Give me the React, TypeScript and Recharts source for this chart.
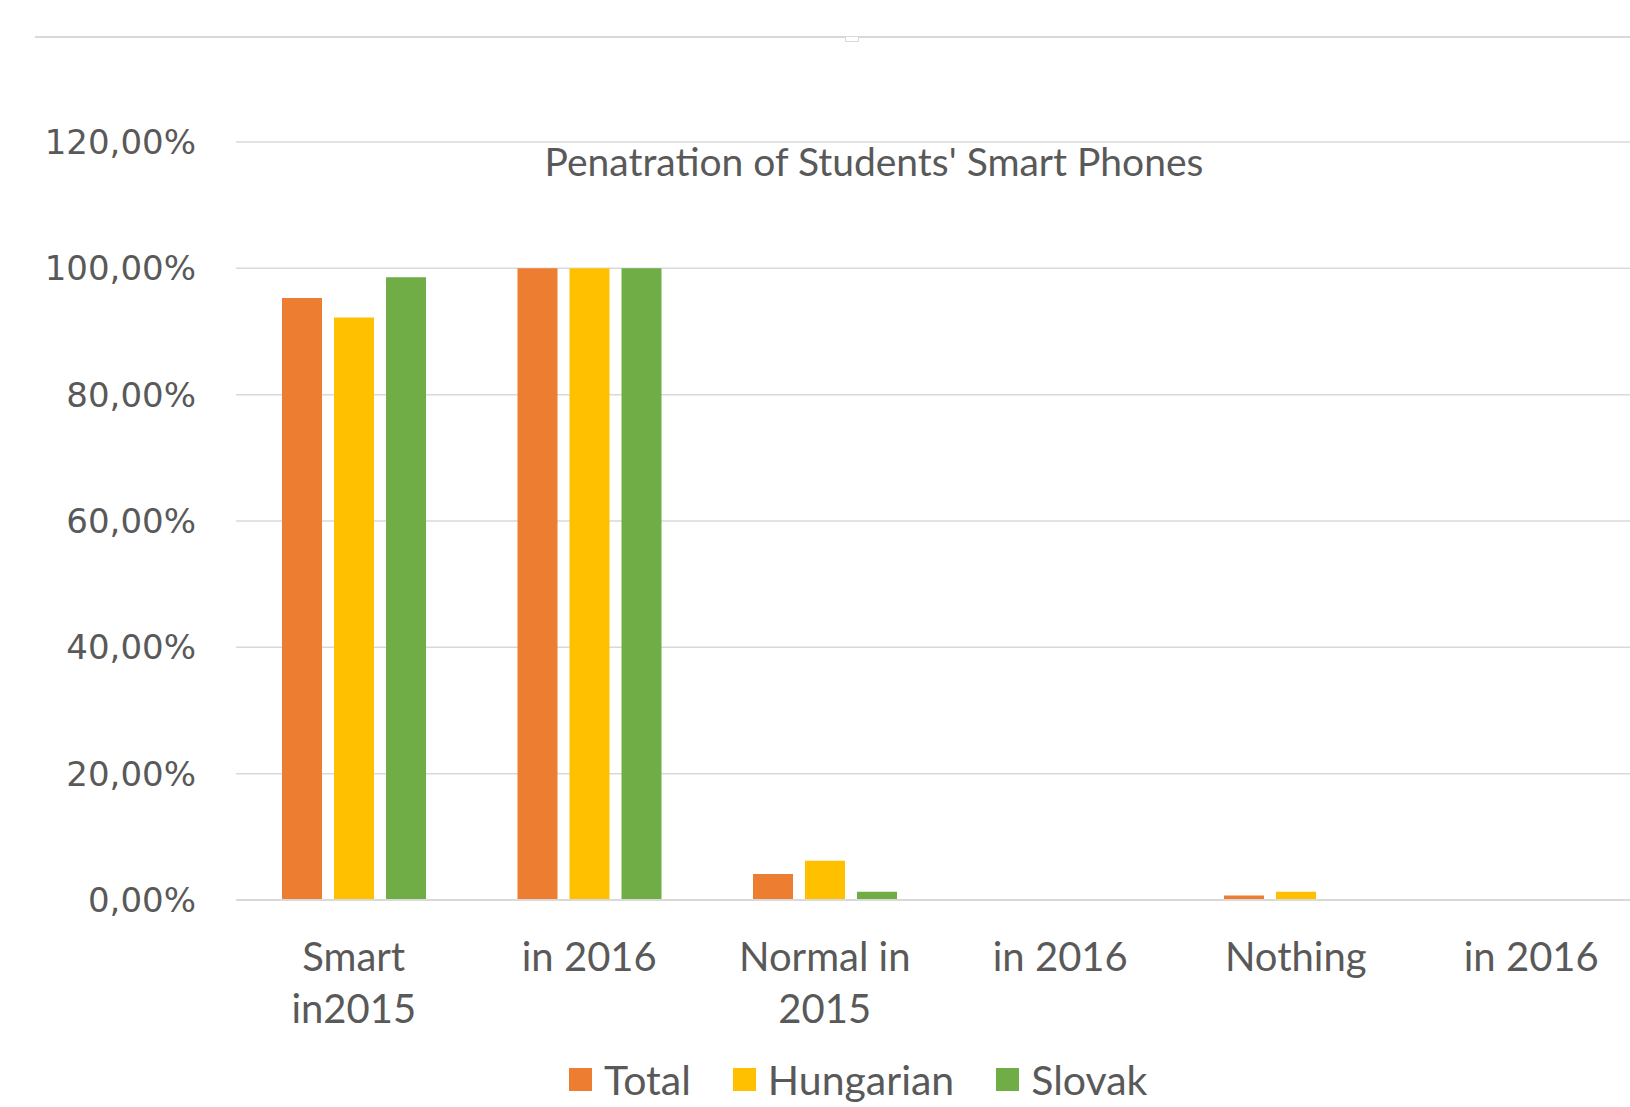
import { BarChart, Bar, XAxis, YAxis, CartesianGrid } from "recharts";

const categories = [
  "Smart\nin2015",
  "in 2016",
  "Normal in\n2015",
  "in 2016",
  "Nothing",
  "in 2016",
];
const total = [0.953, 1.0, 0.041, 0, 0.007, 0];
const hungarian = [0.922, 1.0, 0.062, 0, 0.013, 0];
const slovak = [0.986, 1.0, 0.013, 0, 0, 0];
const yTicks = [0, 0.2, 0.4, 0.6, 0.8, 1.0, 1.2];

const series = [
  { key: "total", name: "Total", color: "#ED7D31" },
  { key: "hungarian", name: "Hungarian", color: "#FFC000" },
  { key: "slovak", name: "Slovak", color: "#70AD47" },
];

const data = categories.map((label, i) => ({
  label,
  total: total[i],
  hungarian: hungarian[i],
  slovak: slovak[i],
}));

const TEXT = "#595959";
const GRID = "#D9D9D9";

function CategoryTick(props: any) {
  const { x, y, payload } = props;
  const lines = String(payload.value).split("\n");
  return (
    <text
      x={x}
      y={y}
      textAnchor="middle"
      fill={TEXT}
      fontFamily="Lato, sans-serif"
      fontSize={40}
    >
      {lines.map((l, i) => (
        <tspan key={i} x={x} dy={i === 0 ? 71 : 52}>
          {l}
        </tspan>
      ))}
    </text>
  );
}

export default function App() {
  return (
    <div
      style={{
        position: "absolute",
        left: 0,
        top: 0,
        width: 1630,
        height: 1107,
        overflow: "hidden",
        background: "#fff",
      }}
    >
      {/* chart frame edge */}
      <div
        style={{
          position: "absolute",
          left: 35,
          top: 36,
          width: 1600,
          borderTop: `2px solid ${GRID}`,
        }}
      />
      <div
        style={{
          position: "absolute",
          left: 845,
          top: 37,
          width: 12,
          height: 4,
          border: `1px solid ${GRID}`,
          borderTop: "none",
          background: "#fff",
        }}
      />
      <div style={{ position: "absolute", left: 0, top: 0 }}>
        <BarChart
          width={1660}
          height={1107}
          data={data}
          margin={{ top: 142, right: 11, bottom: 0, left: 0 }}
          barSize={40}
          barGap={12}
        >
          <CartesianGrid vertical={false} stroke={GRID} strokeWidth={1.5} />
          <XAxis
            dataKey="label"
            axisLine={{ stroke: GRID, strokeWidth: 2 }}
            tickLine={false}
            tickSize={0}
            tickMargin={0}
            height={207}
            interval={0}
            tick={<CategoryTick />}
          />
          <YAxis
            width={236}
            domain={[0, 1.2]}
            ticks={yTicks}
            axisLine={false}
            tickLine={false}
            tickSize={0}
            tickMargin={40}
            tick={{
              fill: TEXT,
              fontSize: 34,
              fontFamily: "DejaVu Sans, sans-serif",
            }}
            tickFormatter={(v: number) =>
              (v * 100).toFixed(2).replace(".", ",") + "%"
            }
          />
          {series.map((s) => (
            <Bar
              key={s.key}
              dataKey={s.key}
              name={s.name}
              fill={s.color}
              isAnimationActive={false}
            />
          ))}
        </BarChart>
      </div>
      <div
        style={{
          position: "absolute",
          left: 374,
          top: 136,
          width: 1000,
          height: 50,
          lineHeight: "50px",
          textAlign: "center",
          color: TEXT,
          fontFamily: "Lato, sans-serif",
          fontSize: 39,
        }}
      >
        Penatration of Students' Smart Phones
      </div>
      <div
        style={{
          position: "absolute",
          left: 569,
          top: 1054,
          height: 50,
          display: "flex",
          alignItems: "center",
          gap: 42,
          color: TEXT,
          fontFamily: "Lato, sans-serif",
          fontSize: 41,
        }}
      >
        {series.map((s) => (
          <div
            key={s.key}
            style={{ display: "flex", alignItems: "center", gap: 12 }}
          >
            <div style={{ width: 23, height: 23, background: s.color }} />
            <span>{s.name}</span>
          </div>
        ))}
      </div>
    </div>
  );
}
